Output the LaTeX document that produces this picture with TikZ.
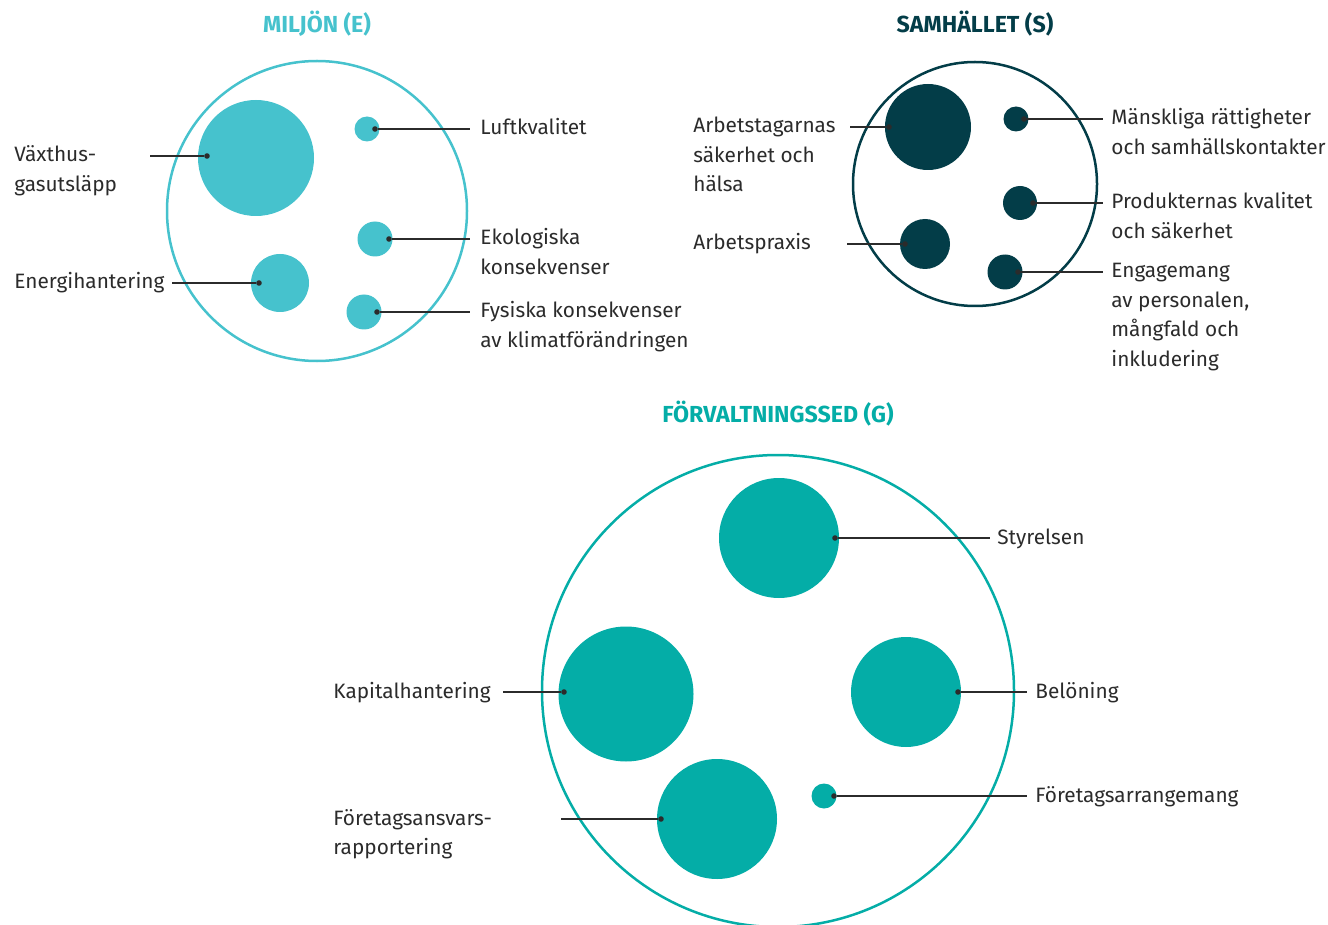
\documentclass[tikz,border=0pt]{standalone}
\usepackage{fontspec}
\setmainfont{Fira Sans}
\definecolor{miljo}{HTML}{46C2CD}
\definecolor{samh}{HTML}{033D48}
\definecolor{forv}{HTML}{04ADA7}
\definecolor{ink}{HTML}{2B2B2B}
\begin{document}
\begin{tikzpicture}[x=0.5pt,y=-0.5pt]
\tikzstyle{ring}=[draw,shape=circle,line width=1.25pt,inner sep=0]
\tikzstyle{blob}=[shape=circle,inner sep=0]
\tikzstyle{dot}=[fill=ink,shape=circle,inner sep=0,minimum size=2.8pt]
\tikzstyle{leader}=[draw=ink,line width=0.65pt]
% base = last line, so multi-line labels sit at their last baseline
\tikzstyle{lab}=[anchor=base west,align=left,inner sep=0,text=ink,font=\fontsize{10.4}{14.75}\selectfont]
\tikzstyle{head}=[anchor=base,inner sep=0,font=\bfseries\fontsize{11.6}{14}\selectfont]
\useasboundingbox (0,0) rectangle (1328,925);

% Miljon (E)
\node[head,text=miljo] (et) at (317,33) {MILJÖN (E)};
\path (317,211) node[ring,draw=miljo,minimum size=150pt](e0){};
\path (256,158) node[blob,fill=miljo,minimum size=58pt](e1){}
      (367,129) node[blob,fill=miljo,minimum size=12.5pt](e2){}
      (375,239) node[blob,fill=miljo,minimum size=17.5pt](e3){}
      (280,283) node[blob,fill=miljo,minimum size=29pt](e4){}
      (364,312) node[blob,fill=miljo,minimum size=17.5pt](e5){};
\path (207,156) node[dot](e1d){} (375,129) node[dot](e2d){}
      (389,239) node[dot](e3d){} (259,283) node[dot](e4d){}
      (377,312) node[dot](e5d){};
\coordinate (e1a) at (150,156);
\coordinate (e2a) at (470,129);
\coordinate (e3a) at (470,239);
\coordinate (e4a) at (172,283);
\coordinate (e5a) at (470,312);
\draw[leader] (e1a) -- (e1d);
\draw[leader] (e2d) -- (e2a);
\draw[leader] (e3d) -- (e3a);
\draw[leader] (e4a) -- (e4d);
\draw[leader] (e5d) -- (e5a);
\node[lab] (e1l) at (14,191.5) {Växthus-\\gasutsläpp};
\node[lab] (e2l) at (480,135) {Luftkvalitet};
\node[lab] (e3l) at (480,274.5) {Ekologiska\\konsekvenser};
\node[lab] (e4l) at (14,289) {Energihantering};
\node[lab] (e5l) at (480,347.5) {Fysiska konsekvenser\\av klimatförändringen};

% Samhallet (S)
\node[head,text=samh] (st) at (975,33) {SAMHÄLLET (S)};
\path (975,184) node[ring,draw=samh,minimum size=122pt](s0){};
\path (928,127) node[blob,fill=samh,minimum size=43pt](s1){}
      (925,244) node[blob,fill=samh,minimum size=25pt](s2){}
      (1016,119) node[blob,fill=samh,minimum size=12.5pt](s3){}
      (1020,203) node[blob,fill=samh,minimum size=17pt](s4){}
      (1005,272) node[blob,fill=samh,minimum size=17.5pt](s5){};
\path (889,127) node[dot](s1d){} (905,244) node[dot](s2d){}
      (1024,119) node[dot](s3d){} (1033,203) node[dot](s4d){}
      (1018,272) node[dot](s5d){};
\coordinate (s1a) at (850,127);
\coordinate (s2a) at (847,244);
\coordinate (s3a) at (1103,119);
\coordinate (s4a) at (1103,203);
\coordinate (s5a) at (1103,272);
\draw[leader] (s1a) -- (s1d);
\draw[leader] (s2a) -- (s2d);
\draw[leader] (s3d) -- (s3a);
\draw[leader] (s4d) -- (s4a);
\draw[leader] (s5d) -- (s5a);
\node[lab] (s1l) at (693,192) {Arbetstagarnas\\säkerhet och\\hälsa};
\node[lab] (s2l) at (693,250) {Arbetspraxis};
\node[lab] (s3l) at (1111,154.5) {Mänskliga rättigheter\\och samhällskontakter};
\node[lab] (s4l) at (1111,238.5) {Produkternas kvalitet\\och säkerhet};
\node[lab] (s5l) at (1111,366) {Engagemang\\av personalen,\\mångfald och\\inkludering};

% Forvaltningssed (G)
\node[head,text=forv] (gt) at (778,422) {FÖRVALTNINGSSED (G)};
\path (778,691) node[ring,draw=forv,minimum size=236pt](g0){};
\path (779,538) node[blob,fill=forv,minimum size=60pt](g1){}
      (626,694) node[blob,fill=forv,minimum size=67.5pt](g2){}
      (906,692) node[blob,fill=forv,minimum size=55pt](g3){}
      (717,819) node[blob,fill=forv,minimum size=60pt](g4){}
      (824,796) node[blob,fill=forv,minimum size=12.5pt](g5){};
\path (835,538) node[dot](g1d){} (564,692) node[dot](g2d){}
      (958,692) node[dot](g3d){} (661,819) node[dot](g4d){}
      (834,796) node[dot](g5d){};
\coordinate (g1a) at (990,538);
\coordinate (g2a) at (503,692);
\coordinate (g3a) at (1027,692);
\coordinate (g4a) at (561,819);
\coordinate (g5a) at (1027,796);
\draw[leader] (g1d) -- (g1a);
\draw[leader] (g2a) -- (g2d);
\draw[leader] (g3d) -- (g3a);
\draw[leader] (g4a) -- (g4d);
\draw[leader] (g5d) -- (g5a);
\node[lab] (g1l) at (997,544) {Styrelsen};
\node[lab] (g2l) at (333,698) {Kapitalhantering};
\node[lab] (g3l) at (1035,698) {Belöning};
\node[lab] (g4l) at (333,854.5) {Företagsansvars-\\rapportering};
\node[lab] (g5l) at (1035,802) {Företagsarrangemang};
\end{tikzpicture}
\end{document}
